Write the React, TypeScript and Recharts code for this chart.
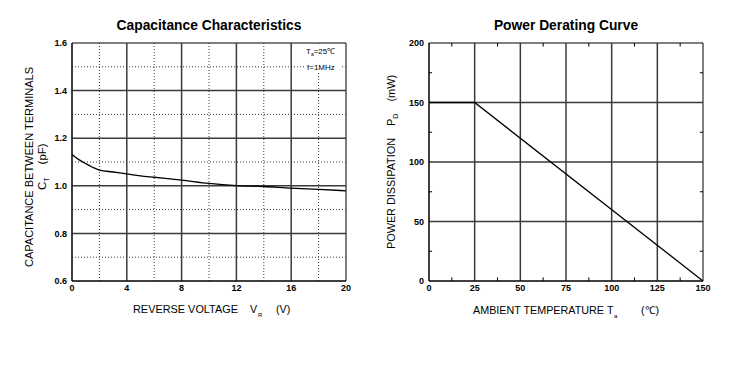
import { LineChart, Line, XAxis, YAxis, ReferenceLine, ReferenceArea } from 'recharts';

// Capacitance vs reverse voltage
const capVoltage = [0, 0.5, 1, 1.5, 2, 3, 4, 5, 6, 8, 10, 12, 14, 16, 18, 20];
const capValue = [1.132, 1.11, 1.093, 1.078, 1.066, 1.058, 1.05, 1.042, 1.036, 1.024, 1.01, 1.001, 0.997, 0.99, 0.985, 0.979];
const capXTicks = [0, 4, 8, 12, 16, 20];
const capXMinor = [2, 6, 10, 14, 18];
const capYTicks = [0.6, 0.8, 1.0, 1.2, 1.4, 1.6];
const capYMinor = [0.7, 0.9, 1.1, 1.3, 1.5];

// Power derating
const tempValues = [0, 25, 150];
const powerValues = [150, 150, 0];
const tempTicks = [0, 25, 50, 75, 100, 125, 150];
const tempMinor = [12.5, 37.5, 62.5, 87.5, 112.5, 137.5];
const powerTicks = [0, 50, 100, 150, 200];
const powerMinor = [25, 75, 125, 175];

const capData = capVoltage.map((v, i) => ({ v, c: capValue[i] }));
const powerData = tempValues.map((t, i) => ({ t, p: powerValues[i] }));

const FONT = '"Liberation Sans", Arial, sans-serif';
const tickStyle = { fontSize: 9, fontWeight: 'bold', fill: '#000', fontFamily: FONT };
const GRID = '#3a3a3a';

export default function App() {
    return (
        <div style={{ position: 'absolute', left: 0, top: 0, width: 741, height: 366, background: '#fff', fontFamily: FONT }}>
            {/* Capacitance Characteristics */}
            <div style={{ position: 'absolute', left: 72, width: 274, top: 18, textAlign: 'center', fontSize: 13.8, fontWeight: 'bold' }}>
                Capacitance Characteristics
            </div>
            <div style={{ position: 'absolute', left: 0, top: 0 }}>
                <LineChart width={370} height={330} data={capData} margin={{ top: 43, right: 24, bottom: 29, left: 32 }}>
                    <XAxis dataKey="v" type="number" domain={[0, 20]} ticks={capXTicks} tick={tickStyle} tickLine={false} tickSize={2} tickMargin={2} height={20} axisLine={{ stroke: '#000' }} />
                    <YAxis type="number" domain={[0.6, 1.6]} ticks={capYTicks} tick={tickStyle} tickLine={false} tickSize={3} tickMargin={2} width={40} axisLine={{ stroke: '#000' }} tickFormatter={(v: number) => v.toFixed(1)} />
                    {capXMinor.map((x) => <ReferenceLine key={'xm' + x} x={x} stroke={GRID} strokeWidth={1} strokeDasharray="1 2" />)}
                    {capYMinor.map((y) => <ReferenceLine key={'ym' + y} y={y} stroke={GRID} strokeWidth={1} strokeDasharray="1 2" />)}
                    {capXTicks.slice(1, -1).map((x) => <ReferenceLine key={'x' + x} x={x} stroke={GRID} strokeWidth={1.5} />)}
                    {capYTicks.slice(1, -1).map((y) => <ReferenceLine key={'y' + y} y={y} stroke={GRID} strokeWidth={1.5} />)}
                    <ReferenceArea x1={0} x2={20} y1={0.6} y2={1.6} fill="none" stroke="#000" strokeWidth={1} />
                    <Line dataKey="c" type="monotone" stroke="#000" strokeWidth={1.3} dot={false} isAnimationActive={false} />
                </LineChart>
            </div>

            {/* Power Derating Curve */}
            <div style={{ position: 'absolute', left: 429, width: 274, top: 18, textAlign: 'center', fontSize: 13.8, fontWeight: 'bold' }}>
                Power Derating Curve
            </div>
            <div style={{ position: 'absolute', left: 370, top: 0 }}>
                <LineChart width={371} height={330} data={powerData} margin={{ top: 43, right: 38, bottom: 29, left: 19 }}>
                    <XAxis dataKey="t" type="number" domain={[0, 150]} ticks={tempTicks} tick={tickStyle} tickLine={false} tickSize={2} tickMargin={2} height={20} axisLine={{ stroke: '#000' }} />
                    <YAxis type="number" domain={[0, 200]} ticks={powerTicks} tick={tickStyle} tickLine={false} tickSize={3} tickMargin={2} width={40} axisLine={{ stroke: '#000' }} />
                    {tempTicks.slice(1, -1).map((x) => <ReferenceLine key={'x' + x} x={x} stroke={GRID} strokeWidth={1.5} />)}
                    {powerTicks.slice(1, -1).map((y) => <ReferenceLine key={'y' + y} y={y} stroke={GRID} strokeWidth={1.5} />)}
                    {tempMinor.map((x) => <ReferenceLine key={'tb' + x} segment={[{ x, y: 0 }, { x, y: 3 }]} stroke="#000" />)}
                    {tempMinor.map((x) => <ReferenceLine key={'tt' + x} segment={[{ x, y: 197 }, { x, y: 200 }]} stroke="#000" />)}
                    {powerMinor.map((y) => <ReferenceLine key={'pl' + y} segment={[{ x: 0, y }, { x: 1.7, y }]} stroke="#000" />)}
                    {powerMinor.map((y) => <ReferenceLine key={'pr' + y} segment={[{ x: 148.3, y }, { x: 150, y }]} stroke="#000" />)}
                    <ReferenceArea x1={0} x2={150} y1={0} y2={200} fill="none" stroke="#000" strokeWidth={1} />
                    <Line dataKey="p" type="linear" stroke="#000" strokeWidth={1.3} dot={false} isAnimationActive={false} />
                </LineChart>
            </div>

            {/* axis titles and notes */}
            <svg width={741} height={366} style={{ position: 'absolute', left: 0, top: 0, pointerEvents: 'none' }} fontFamily={FONT} fill="#000">
                <rect x={304} y={45} width={38} height={27} fill="#fff" />
                <text x={306} y={54} fontSize={8}>T<tspan fontSize={5} dy={2}>a</tspan><tspan dy={-2}>=25℃</tspan></text>
                <text x={307} y={70} fontSize={8}>f=1MHz</text>

                <text fontSize={10.7} x={133} y={313} textLength={105} lengthAdjust="spacingAndGlyphs">REVERSE VOLTAGE</text>
                <text fontSize={10.7} y={313}>
                    <tspan x={250}>V</tspan>
                    <tspan x={258} dy={4} fontSize={6}>R</tspan>
                    <tspan x={276} dy={-4}>(V)</tspan>
                </text>
                <text fontSize={10.7} x={473} y={314} textLength={131} lengthAdjust="spacingAndGlyphs">AMBIENT TEMPERATURE</text>
                <text fontSize={10.7} y={314}>
                    <tspan x={607}>T</tspan>
                    <tspan x={614} dy={4} fontSize={6}>a</tspan>
                    <tspan x={641} dy={-4}>(℃)</tspan>
                </text>

                <text transform="translate(33,167) rotate(-90)" fontSize={11} textAnchor="middle" textLength={200} lengthAdjust="spacingAndGlyphs">CAPACITANCE BETWEEN TERMINALS</text>
                <text transform="translate(46,190) rotate(-90)" fontSize={11.5}>
                    C<tspan fontSize={7} dy={3}>T</tspan><tspan dy={-3} dx={13}>(pF)</tspan>
                </text>
                <text transform="translate(395,249) rotate(-90)" fontSize={11} textLength={111} lengthAdjust="spacingAndGlyphs">POWER DISSIPATION</text>
                <text transform="translate(395,126) rotate(-90)" fontSize={11}>
                    P<tspan fontSize={7} dy={3}>D</tspan><tspan dy={-3} dx={12}>(mW)</tspan>
                </text>
            </svg>
        </div>
    );
}
